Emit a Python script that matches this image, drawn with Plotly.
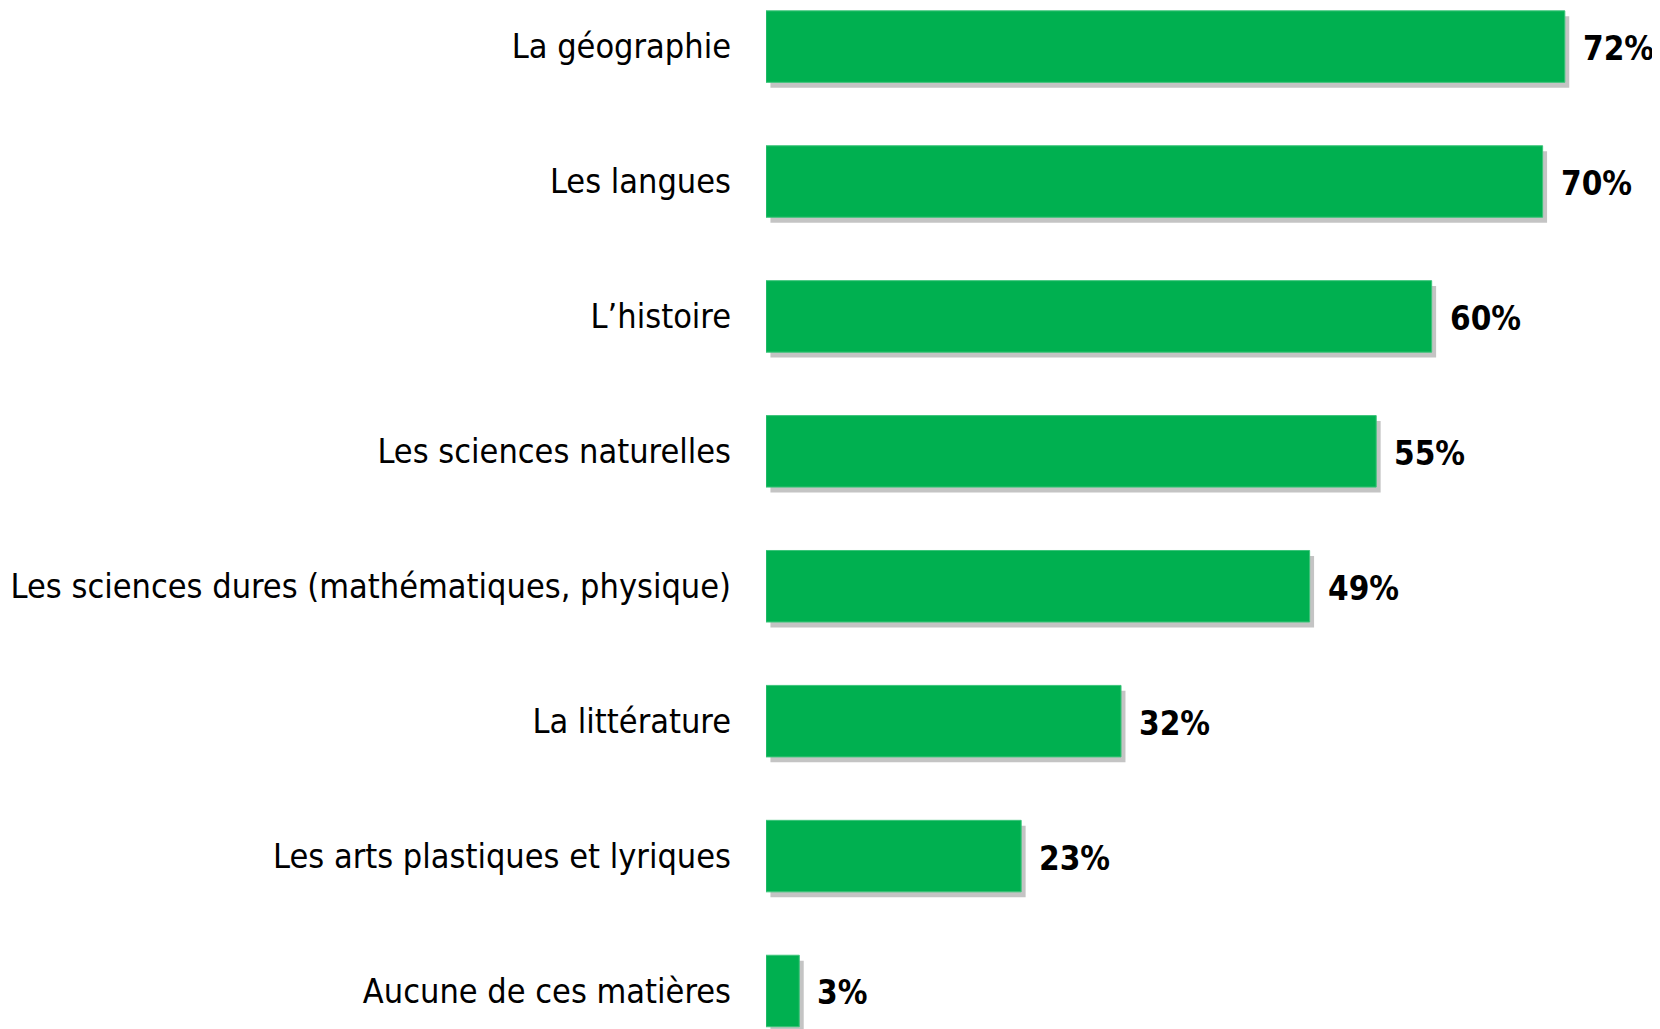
import plotly.graph_objects as go

# top to bottom, as in the source chart
categories = [
    "La géographie",
    "Les langues",
    "L’histoire",
    "Les sciences naturelles",
    "Les sciences dures (mathématiques, physique)",
    "La littérature",
    "Les arts plastiques et lyriques",
    "Aucune de ces matières",
]
values = [72, 70, 60, 55, 49, 32, 23, 3]
value_labels = [f"{v}%" for v in values]

GREEN = "#00B050"
SHADOW = "#C4C4C4"
FONT = "DejaVu Sans Condensed, DejaVu Sans, sans-serif"
BAR_W = 0.53
n = len(categories)
idx = list(range(n))

fig = go.Figure()

# drop shadow, shifted a few pixels right and down
fig.add_trace(go.Bar(
    y=idx, x=values, base=0.4, orientation="h",
    width=BAR_W, offset=-BAR_W / 2 + 0.04,
    marker=dict(color=SHADOW, line=dict(width=0)),
    hoverinfo="skip", showlegend=False,
))

fig.add_trace(go.Bar(
    y=idx, x=values, orientation="h",
    width=BAR_W, offset=-BAR_W / 2,
    marker=dict(color=GREEN, line=dict(width=1, color="#3CC47A")),
    showlegend=False,
))

for i, v, lab in zip(idx, values, value_labels):
    fig.add_annotation(
        x=v, y=i, text=lab, showarrow=False,
        xanchor="left", xshift=16, yshift=-2,
        font=dict(family=FONT, size=33, color="black", weight="bold"),
    )

fig.update_layout(
    barmode="overlay",
    width=1660, height=1029,
    margin=dict(l=758, r=0, t=0, b=0),
    paper_bgcolor="white", plot_bgcolor="white",
    font=dict(family=FONT, size=34, color="black"),
    xaxis=dict(range=[0, 81.3], visible=False, fixedrange=True, automargin=False),
    yaxis=dict(
        tickmode="array", tickvals=idx, ticktext=categories,
        range=[n - 1 + 0.341, -0.286],
        showgrid=False, zeroline=False, showline=False, automargin=False,
        ticks="", ticklabelstandoff=34, fixedrange=True,
    ),
)

fig.write_html("out.html")
